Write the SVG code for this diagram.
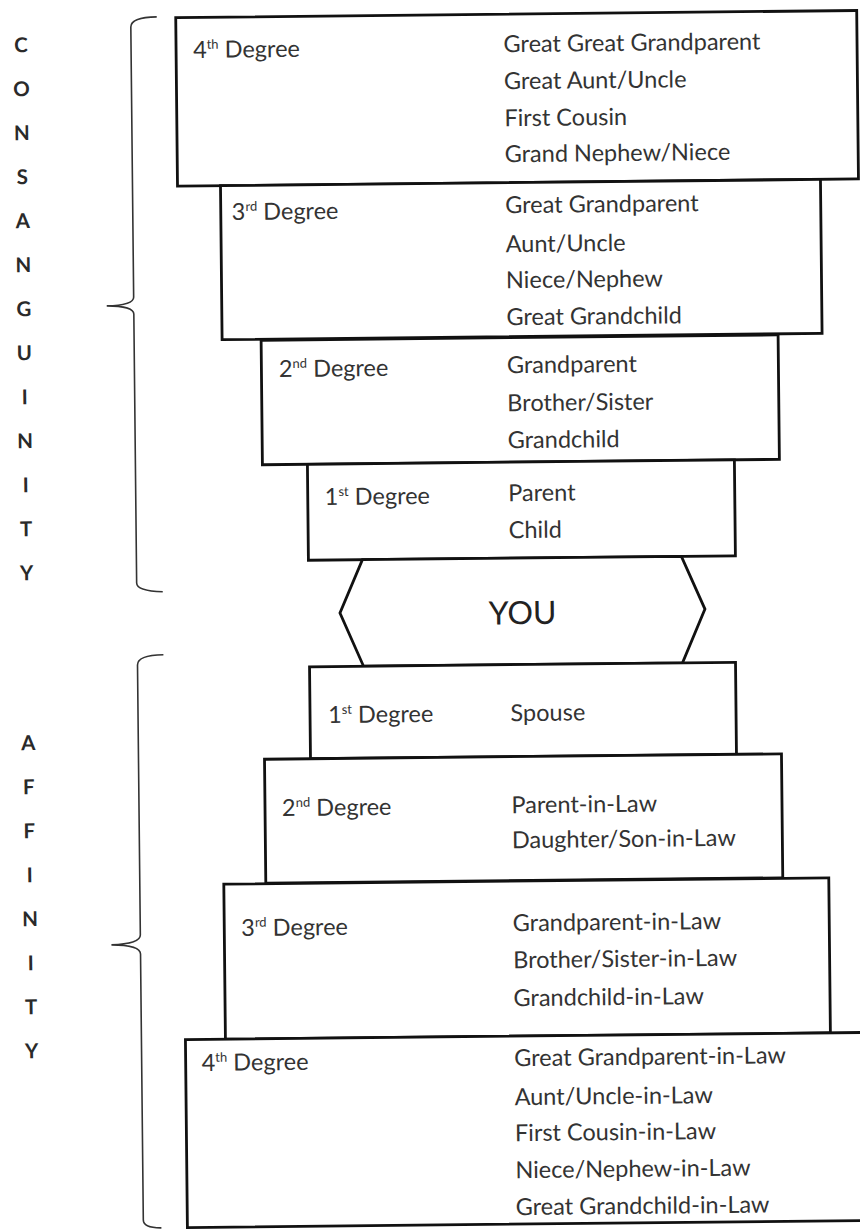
<svg xmlns="http://www.w3.org/2000/svg" width="860" height="1230" viewBox="0 0 860 1230">
<style>
.box{fill:#fff;stroke:#111;stroke-width:2.8}
.t{font-family:Lato,"Liberation Sans",sans-serif;font-size:23.5px;fill:#333}
.you{font-family:Lato,"Liberation Sans",sans-serif;font-size:32px;fill:#222;text-anchor:middle}
.side{font-family:Lato,"Liberation Sans",sans-serif;font-weight:bold;font-size:20.5px;fill:#2a2a2a;text-anchor:middle}
.brace{fill:none;stroke:#333;stroke-width:1.6}
</style>
<rect width="860" height="1230" fill="#fff"/>
<g transform="rotate(-0.6 430 615)">
<g id="brackets">
<path class="brace" d="M163,14 Q137,14 137,24 L137,294 Q137,302 110,302.5 Q137,303 137,311 L137,580 Q137,588 163,589"/>
<path class="brace" d="M163,652 Q137,652 137,662 L137,932 Q137,941 108,941.5 Q137,942 137,951 L137,1217 Q137,1225 155,1225"/>
</g>
<g id="label-consanguinity" class="side">
<text x="27" y="48">C</text><text x="27" y="92">O</text><text x="27" y="136">N</text><text x="27" y="180">S</text><text x="27" y="224">A</text><text x="27" y="268">N</text><text x="27" y="312">G</text><text x="27" y="356">U</text><text x="27" y="400">I</text><text x="27" y="444">N</text><text x="27" y="488">I</text><text x="27" y="532">T</text><text x="27" y="576">Y</text>
</g>
<g id="label-affinity" class="side">
<text x="27" y="746">A</text><text x="27" y="790">F</text><text x="27" y="834">F</text><text x="27" y="878">I</text><text x="27" y="922">N</text><text x="27" y="966">I</text><text x="27" y="1010">T</text><text x="27" y="1054">Y</text>
</g>
<g id="c4">
<rect class="box" x="182" y="15" width="681" height="168.5"/>
<text class="t" x="199" y="55.5">4<tspan dy="-9" font-size="13">th</tspan><tspan dy="9"> Degree</tspan></text>
<text class="t" x="509.5" y="53">Great Great Grandparent</text>
<text class="t" x="509.5" y="90">Great Aunt/Uncle</text>
<text class="t" x="509.5" y="127">First Cousin</text>
<text class="t" x="509.5" y="163">Grand Nephew/Niece</text>
</g>
<g id="c3">
<rect class="box" x="225" y="183.5" width="600" height="154"/>
<text class="t" x="236" y="218">3<tspan dy="-9" font-size="13">rd</tspan><tspan dy="9"> Degree</tspan></text>
<text class="t" x="509.5" y="214">Great Grandparent</text>
<text class="t" x="509.5" y="253">Aunt/Uncle</text>
<text class="t" x="509.5" y="289">Niece/Nephew</text>
<text class="t" x="509.5" y="326">Great Grandchild</text>
</g>
<g id="c2">
<rect class="box" x="264" y="338.5" width="517" height="124.5"/>
<text class="t" x="281.5" y="375.5">2<tspan dy="-9" font-size="13">nd</tspan><tspan dy="9"> Degree</tspan></text>
<text class="t" x="509.5" y="374">Grandparent</text>
<text class="t" x="509.5" y="412">Brother/Sister</text>
<text class="t" x="509.5" y="449">Grandchild</text>
</g>
<g id="c1">
<rect class="box" x="309" y="463" width="427" height="96"/>
<text class="t" x="326" y="504">1<tspan dy="-9" font-size="13">st</tspan><tspan dy="9"> Degree</tspan></text>
<text class="t" x="509.5" y="502">Parent</text>
<text class="t" x="509.5" y="539">Child</text>
</g>
<g id="you">
<polygon class="box" points="363,559 682,559 705,612 682,665.5 363,665.5 340,612"/>
<text class="you" x="522.5" y="625">YOU</text>
</g>
<g id="a1">
<rect class="box" x="309" y="665.5" width="426" height="92"/>
<text class="t" x="327" y="722">1<tspan dy="-9" font-size="13">st</tspan><tspan dy="9"> Degree</tspan></text>
<text class="t" x="509.5" y="722">Spouse</text>
</g>
<g id="a2">
<rect class="box" x="263" y="757.5" width="517" height="124"/>
<text class="t" x="280" y="814.5">2<tspan dy="-9" font-size="13">nd</tspan><tspan dy="9"> Degree</tspan></text>
<text class="t" x="509.5" y="814">Parent-in-Law</text>
<text class="t" x="509.5" y="849">Daughter/Son-in-Law</text>
</g>
<g id="a3">
<rect class="box" x="221" y="882" width="605" height="155"/>
<text class="t" x="238" y="934">3<tspan dy="-9" font-size="13">rd</tspan><tspan dy="9"> Degree</tspan></text>
<text class="t" x="509.5" y="932">Grandparent-in-Law</text>
<text class="t" x="509.5" y="969">Brother/Sister-in-Law</text>
<text class="t" x="509.5" y="1007">Grandchild-in-Law</text>
</g>
<g id="a4">
<rect class="box" x="181" y="1037" width="690" height="188"/>
<text class="t" x="197" y="1068.5">4<tspan dy="-9" font-size="13">th</tspan><tspan dy="9"> Degree</tspan></text>
<text class="t" x="509.5" y="1067">Great Grandparent-in-Law</text>
<text class="t" x="509.5" y="1106">Aunt/Uncle-in-Law</text>
<text class="t" x="509.5" y="1142">First Cousin-in-Law</text>
<text class="t" x="509.5" y="1179">Niece/Nephew-in-Law</text>
<text class="t" x="509.5" y="1216">Great Grandchild-in-Law</text>
</g>
</g>
</svg>
